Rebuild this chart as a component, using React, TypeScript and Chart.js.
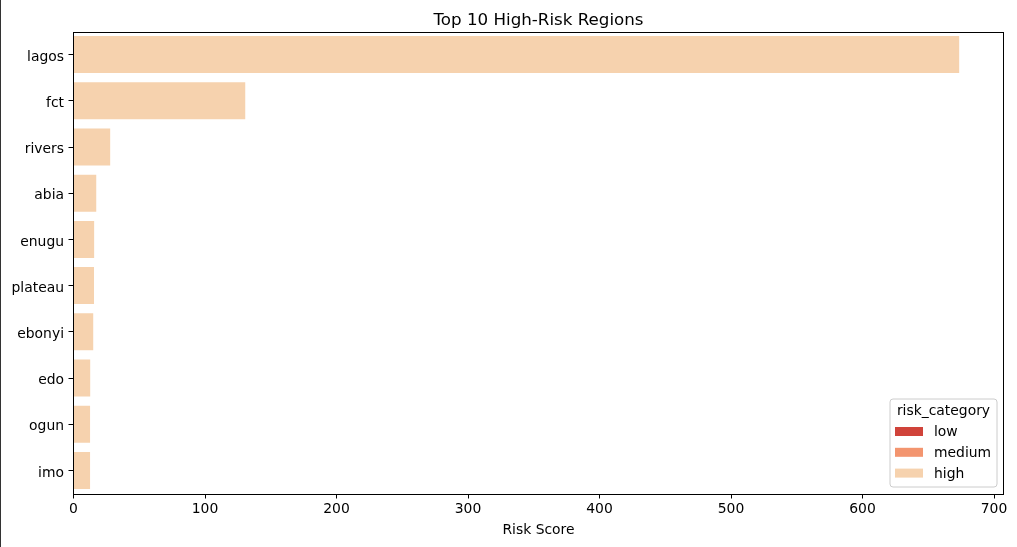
import React, { useEffect, useRef } from "react";
import { Chart, registerables } from "chart.js";

Chart.register(...registerables);

const regions = ["lagos", "fct", "rivers", "abia", "enugu", "plateau", "ebonyi", "edo", "ogun", "imo"];
const riskScores = [673.5, 130.6, 27.9, 17.3, 15.7, 15.6, 15.0, 12.7, 12.6, 12.6];
const regionCategory = ["high", "high", "high", "high", "high", "high", "high", "high", "high", "high"];
const riskCategories = ["low", "medium", "high"];
const categoryColors = ["#d0433a", "#f3956f", "#f6d2ae"];
const xTicks = [0, 100, 200, 300, 400, 500, 600, 700];
const xMax = 707.2;
const chartTitle = "Top 10 High-Risk Regions";
const xAxisTitle = "Risk Score";
const legendTitle = "risk_category";

const FONT = "'DejaVu Sans', sans-serif";

const framePlugin = {
  id: "framePlugin",
  afterDraw(chart: any) {
    const ctx = chart.ctx;
    const a = chart.chartArea;
    ctx.save();
    // frame
    ctx.strokeStyle = "#000";
    ctx.lineWidth = 1;
    ctx.strokeRect(Math.round(a.left) + 0.5 - 1, Math.round(a.top) + 0.5, Math.round(a.right - a.left), Math.round(a.bottom - a.top));
    // title
    ctx.fillStyle = "#000";
    ctx.font = `16.7px ${FONT}`;
    ctx.textAlign = "center";
    ctx.textBaseline = "alphabetic";
    ctx.fillText(chartTitle, (a.left + a.right) / 2, 24.5);
    // x axis title
    ctx.font = `13.9px ${FONT}`;
    ctx.fillText(xAxisTitle, (a.left + a.right) / 2, 534);

    // legend
    const boxW = 107;
    const boxH = 88;
    const bx = a.right - 6.5 - boxW;
    const by = a.bottom - 6.5 - boxH;
    ctx.fillStyle = "rgba(255,255,255,0.8)";
    ctx.strokeStyle = "#cccccc";
    ctx.lineWidth = 1;
    const r = 3;
    ctx.beginPath();
    ctx.moveTo(bx + r, by);
    ctx.lineTo(bx + boxW - r, by);
    ctx.arcTo(bx + boxW, by, bx + boxW, by + r, r);
    ctx.lineTo(bx + boxW, by + boxH - r);
    ctx.arcTo(bx + boxW, by + boxH, bx + boxW - r, by + boxH, r);
    ctx.lineTo(bx + r, by + boxH);
    ctx.arcTo(bx, by + boxH, bx, by + boxH - r, r);
    ctx.lineTo(bx, by + r);
    ctx.arcTo(bx, by, bx + r, by, r);
    ctx.closePath();
    ctx.fill();
    ctx.stroke();

    ctx.fillStyle = "#000";
    ctx.font = `13.9px ${FONT}`;
    ctx.textAlign = "center";
    ctx.textBaseline = "middle";
    ctx.fillText(legendTitle, bx + boxW / 2, by + 12);
    ctx.textAlign = "left";
    riskCategories.forEach((cat, i) => {
      const cy = by + 32.5 + i * 20.8;
      ctx.fillStyle = categoryColors[i];
      ctx.fillRect(bx + 5, cy - 4.5, 28, 9);
      ctx.fillStyle = "#000";
      ctx.fillText(cat, bx + 44, cy + 1);
    });
    ctx.restore();
  },
};

export default function App() {
  const canvasRef = useRef<HTMLCanvasElement | null>(null);

  useEffect(() => {
    document.body.style.margin = "0";
    const canvas = canvasRef.current;
    if (!canvas) return;
    const datasets = riskCategories.map((cat, ci) => ({
      label: cat,
      data: riskScores.map((v, i) => (regionCategory[i] === cat ? v : null)),
      backgroundColor: categoryColors[ci],
      borderWidth: 0,
      grouped: false,
      barPercentage: 0.8,
      categoryPercentage: 1.0,
    }));
    const chart = new Chart(canvas, {
      type: "bar",
      data: { labels: regions, datasets: datasets as any },
      options: {
        indexAxis: "y",
        animation: false,
        responsive: false,
        maintainAspectRatio: false,
        layout: { padding: { left: 0, right: 13.5, top: 31.5, bottom: 0 } },
        plugins: {
          legend: { display: false },
          title: { display: false },
          tooltip: { enabled: false },
        },
        scales: {
          x: {
            type: "linear",
            min: 0,
            max: xMax,
            border: { display: false },
            grid: { drawOnChartArea: false, drawTicks: true, tickLength: 5, color: "#000", lineWidth: 1 },
            ticks: {
              includeBounds: false,
              color: "#000",
              font: { family: FONT, size: 13.9 },
              padding: 3,
              maxRotation: 0,
              autoSkip: false,
            },
            afterBuildTicks: (scale: any) => {
              scale.ticks = xTicks.map((v) => ({ value: v }));
            },
            afterFit: (scale: any) => {
              scale.height = 547 - 493.5;
            },
          },
          y: {
            type: "category",
            border: { display: false },
            grid: { drawOnChartArea: false, drawTicks: true, tickLength: 5, color: "#000", lineWidth: 1, offset: false },
            ticks: {
              color: "#000",
              font: { family: FONT, size: 13.9 },
              padding: 4.5,
              labelOffset: 2.5,
              autoSkip: false,
            },
            afterFit: (scale: any) => {
              scale.width = 73.5;
            },
          },
        },
      },
      plugins: [framePlugin],
    });
    return () => chart.destroy();
  }, []);

  return (
    <div style={{ position: "relative", width: 1017, height: 547, background: "#fff" }}>
      <canvas ref={canvasRef} width={1017} height={547} style={{ display: "block" }} />
      <div style={{ position: "absolute", left: 0, top: 0, width: 1, height: 547, background: "#333" }} />
    </div>
  );
}
